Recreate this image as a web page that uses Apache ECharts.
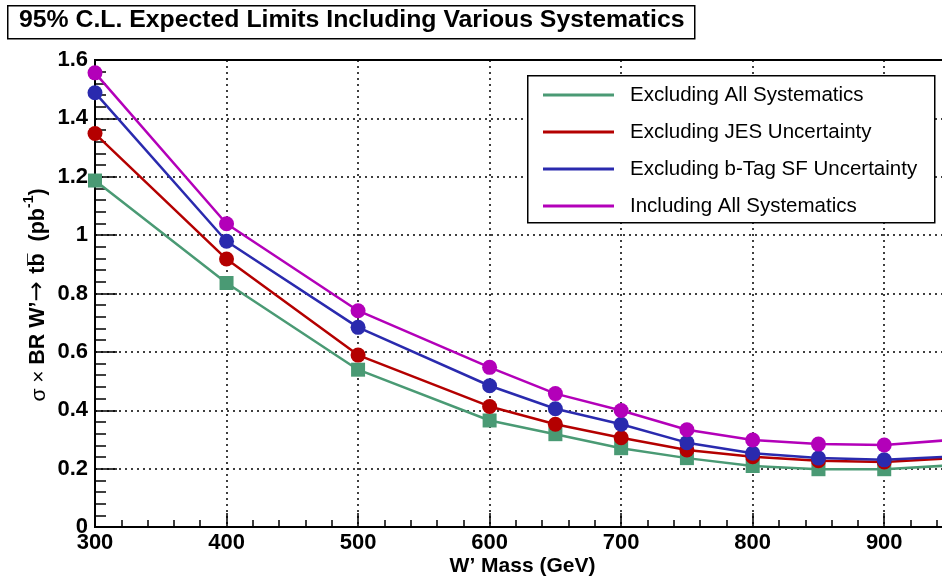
<!DOCTYPE html>
<html>
<head>
<meta charset="utf-8">
<script src="https://cdn.jsdelivr.net/npm/echarts@6/dist/echarts.min.js"></script>
<style>html,body{margin:0;padding:0;background:#fff;}#c{width:942px;height:577px;}</style>
</head>
<body>
<div id="c"></div>
<script>
const masses = [300, 400, 500, 600, 650, 700, 750, 800, 850, 900, 950];
const exclAllSyst = [1.187, 0.836, 0.539, 0.365, 0.318, 0.270, 0.236, 0.209, 0.198, 0.198, 0.211];
const exclJES     = [1.348, 0.918, 0.589, 0.413, 0.352, 0.306, 0.264, 0.241, 0.227, 0.223, 0.235];
const exclBTag    = [1.488, 0.979, 0.684, 0.484, 0.405, 0.352, 0.289, 0.253, 0.236, 0.230, 0.241];
const inclAllSyst = [1.556, 1.039, 0.741, 0.547, 0.457, 0.399, 0.333, 0.298, 0.284, 0.281, 0.298];
const seriesNames = ['Excluding All Systematics', 'Excluding JES Uncertainty', 'Excluding b-Tag SF Uncertainty', 'Including All Systematics'];
const seriesColors = ['#4a9a74', '#b40000', '#2a2aae', '#b300b9'];
const seriesSymbols = ['rect', 'circle', 'circle', 'circle'];
const titleText = '95% C.L. Expected Limits Including Various Systematics';
const xTitle = 'W\u2019 Mass (GeV)';

const FONT = "'Liberation Sans', Arial, Helvetica, sans-serif";
const allData = [exclAllSyst, exclJES, exclBTag, inclAllSyst];

const chart = echarts.init(document.getElementById('c'), null, {renderer: 'canvas'});
const series = allData.map((vals, i) => ({
  name: seriesNames[i],
  type: 'line',
  data: masses.map((m, j) => [m, vals[j]]),
  symbol: seriesSymbols[i],
  symbolSize: i === 0 ? 14 : 15,
  showAllSymbol: true,
  clip: false,
  lineStyle: {color: seriesColors[i], width: 2.5},
  itemStyle: {color: seriesColors[i], borderWidth: 0},
  emphasis: {disabled: true},
  animation: false,
  z: 5 + i
}));

chart.setOption({
  animation: false,
  backgroundColor: '#fff',
  grid: {left: 95, top: 60, bottom: 50, right: -8, outerBoundsMode: 'none', containLabel: false,
         show: true, borderColor: '#000', borderWidth: 2, backgroundColor: 'transparent'},
  xAxis: {
    type: 'value', min: 300, max: 950, interval: 100,
    name: xTitle, nameLocation: 'middle', nameGap: 29, nameMoveOverlap: false,
    nameTextStyle: {fontFamily: FONT, fontWeight: 'bold', fontSize: 21, color: '#000'},
    axisLine: {show: true, lineStyle: {color: '#000', width: 2}},
    axisTick: {show: true, inside: true, length: 14, lineStyle: {color: '#000', width: 1.5}},
    minorTick: {show: true, splitNumber: 5, length: 7, lineStyle: {color: '#000', width: 1.5}},
    axisLabel: {fontFamily: FONT, fontWeight: 'bold', fontSize: 22, color: '#000', margin: 5, showMaxLabel: false},
    splitLine: {show: true, lineStyle: {color: '#000', type: [2, 4], width: 1.5}}
  },
  yAxis: {
    type: 'value', min: 0, max: 1.6, interval: 0.2,
    axisLine: {show: true, lineStyle: {color: '#000', width: 2}},
    axisTick: {show: true, inside: true, length: 22, lineStyle: {color: '#000', width: 1.5}},
    minorTick: {show: true, splitNumber: 5, length: 11, lineStyle: {color: '#000', width: 1.5}},
    axisLabel: {fontFamily: FONT, fontWeight: 'bold', fontSize: 22, color: '#000', margin: 7},
    splitLine: {show: true, lineStyle: {color: '#000', type: [2, 4], width: 1.5}}
  },
  legend: {
    orient: 'vertical', left: 527, top: 77,
    padding: [7, 8, 7, 16],
    itemWidth: 71, itemHeight: 3, itemGap: 15,
    icon: 'rect',
    selectedMode: false,
    data: seriesNames.map((n, i) => ({name: n, icon: 'rect', itemStyle: {color: seriesColors[i]}})),
    textStyle: {fontFamily: FONT, fontSize: 20.5, color: '#000', lineHeight: 22, padding: [0, 0, 0, 11]},
    z: 20
  },
  graphic: [
    {type: 'rect', left: 527, top: 75, shape: {width: 407, height: 147}, style: {fill: '#fff', stroke: '#000', lineWidth: 1.5}, z: 15},
    {type: 'rect', left: 7, top: 5, shape: {width: 687, height: 33}, style: {fill: '#fff', stroke: '#000', lineWidth: 1.5}, z: 15},
    {type: 'text', left: 19, top: 8, style: {text: titleText, font: "bold 24.8px " + FONT, fill: '#000'}, z: 16},
    {type: 'text', x: 36, y: 295, rotation: Math.PI / 2,
     style: {
       text: '{a|\u03c3 \u00d7 }{b|BR W\u2019}{r|\u2192 }{b|tb\u0305  (pb}{s|-1}{b|)}',
       align: 'center', verticalAlign: 'middle',
       rich: {
         a: {font: "21px " + FONT, fill: '#000', lineHeight: 27, verticalAlign: 'bottom'},
         r: {font: "24px 'DejaVu Sans', " + FONT, fill: '#000', lineHeight: 27, verticalAlign: 'bottom'},
         b: {font: "bold 21.5px " + FONT, fill: '#000', lineHeight: 27, verticalAlign: 'bottom'},
         s: {font: "bold 14px " + FONT, fill: '#000', lineHeight: 27, verticalAlign: 'top'}
       }
     }, z: 16}
  ],
  series: series
});
</script>
</body>
</html>
